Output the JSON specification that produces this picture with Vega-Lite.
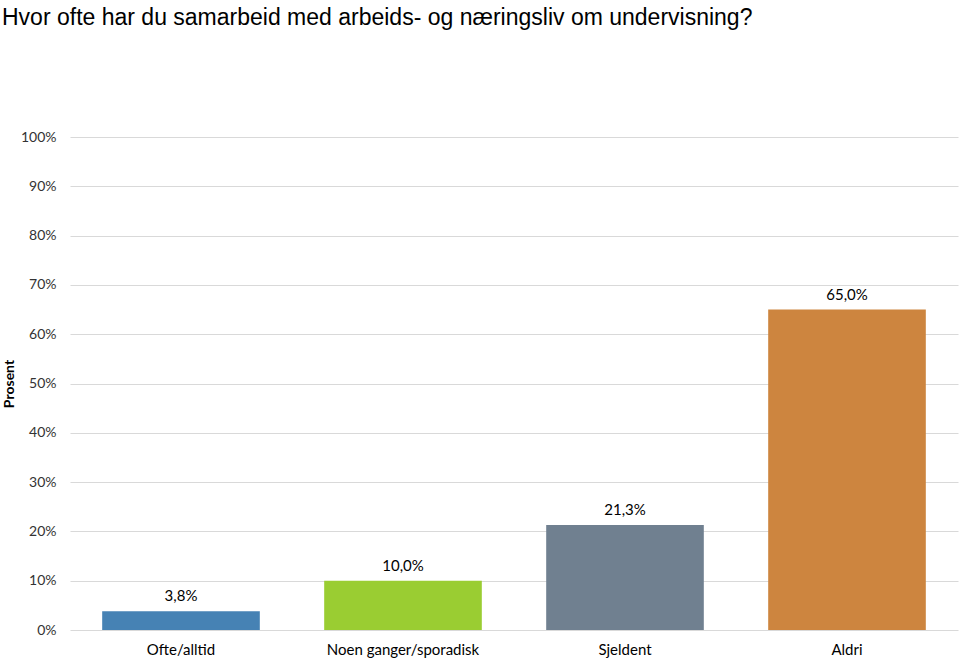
{
  "$schema": "https://vega.github.io/schema/vega-lite/v6.json",
  "width": 888,
  "height": 493,
  "autosize": "none",
  "padding": {"left": 70, "top": 137, "right": 2, "bottom": 29},
  "background": "white",
  "title": {
    "text": "Hvor ofte har du samarbeid med arbeids- og næringsliv om undervisning?",
    "anchor": "start",
    "frame": "group",
    "font": "Liberation Sans",
    "fontSize": 23,
    "fontWeight": "normal",
    "color": "#000000",
    "dx": -68,
    "offset": 77,
    "baseline": "bottom"
  },
  "config": {
    "locale": {"number": {"decimal": ",", "thousands": " ", "grouping": [3], "currency": ["", " kr"]}},
    "view": {"stroke": null},
    "font": "Lato"
  },
  "data": {
    "values": [
      {"kategori": "Ofte/alltid", "andel": 0.038},
      {"kategori": "Noen ganger/sporadisk", "andel": 0.100},
      {"kategori": "Sjeldent", "andel": 0.213},
      {"kategori": "Aldri", "andel": 0.650}
    ]
  },
  "encoding": {
    "x": {
      "field": "kategori",
      "type": "nominal",
      "sort": null,
      "scale": {"paddingInner": 0.29, "paddingOuter": 0.145},
      "axis": {
        "title": null,
        "labelAngle": 0,
        "labelFont": "Lato",
        "labelFontSize": 15,
        "labelColor": "#000000",
        "labelPadding": 12,
        "ticks": false,
        "domain": false
      }
    },
    "y": {
      "field": "andel",
      "type": "quantitative",
      "scale": {"domain": [0, 1]},
      "axis": {
        "title": "Prosent",
        "titleFont": "Lato",
        "titleFontSize": 14,
        "titleFontWeight": "bold",
        "titleColor": "#000000",
        "titlePadding": 4,
        "format": ".0%",
        "values": [0, 0.1, 0.2, 0.3, 0.4, 0.5, 0.6, 0.7, 0.8, 0.9, 1.0],
        "labelOverlap": false,
        "labelFont": "Lato",
        "labelFontSize": 14,
        "labelColor": "#333333",
        "labelPadding": 14,
        "ticks": false,
        "domain": false,
        "gridColor": "#d9d9d9",
        "gridWidth": 1
      }
    }
  },
  "layer": [
    {
      "mark": {"type": "bar"},
      "encoding": {
        "color": {
          "field": "kategori",
          "type": "nominal",
          "sort": null,
          "scale": {
            "domain": ["Ofte/alltid", "Noen ganger/sporadisk", "Sjeldent", "Aldri"],
            "range": ["#4682b4", "#9acd32", "#708090", "#cd853f"]
          },
          "legend": null
        }
      }
    },
    {
      "mark": {"type": "text", "baseline": "bottom", "dy": -7, "font": "Lato", "fontSize": 15, "color": "#000000"},
      "encoding": {
        "text": {"field": "andel", "type": "quantitative", "format": ".1%"}
      }
    }
  ]
}
